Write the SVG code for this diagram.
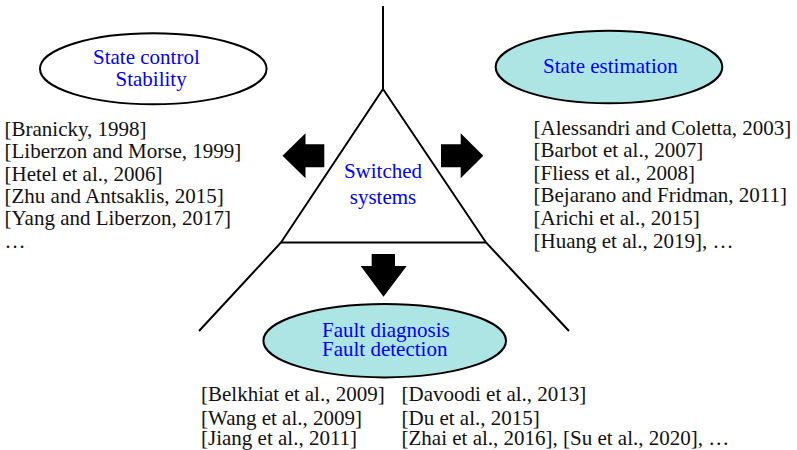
<svg xmlns="http://www.w3.org/2000/svg" width="797" height="450" viewBox="0 0 797 450" style="font-family:'Liberation Serif',serif;font-size:21px">
<style>
.lbl{fill:#0000FF}
.cit{fill:#111111}
.ell{stroke:#000;stroke-width:2}
.ln{stroke:#000;stroke-width:2;fill:none}
.arr{fill:#000}
</style>
<rect width="797" height="450" fill="#fff"/>
<g id="connectors">
<polyline class="ln" points="199,331 281,242.5 383,89 486,242.5 569,331"/>
<line class="ln" x1="281" y1="242.5" x2="486" y2="242.5"/>
<line class="ln" x1="383" y1="6" x2="383" y2="89"/>
<polygon class="arr" points="282.5,155.7 305.5,133.3 305.5,144.3 324.3,144.3 324.3,167.3 305.5,167.3 305.5,178.3"/>
<polygon class="arr" points="441,144.3 460.7,144.3 460.7,133.3 483.3,155.7 460.7,178.3 460.7,167.3 441,167.3"/>
<polygon class="arr" points="371.7,254 395,254 395,266 406.7,266 383.5,296.7 360.7,266 371.7,266"/>
</g>
<g id="switched">
<text class="lbl" x="383" y="177.7" text-anchor="middle">Switched</text>
<text class="lbl" x="383" y="203.5" text-anchor="middle">systems</text>
</g>
<g id="state-control">
<ellipse class="ell" cx="153.3" cy="68.8" rx="113.3" ry="35.5" fill="#fff"/>
<text class="lbl" x="93" y="64.3">State control</text>
<text class="lbl" x="115.5" y="86">Stability</text>
</g>
<g id="state-estimation">
<ellipse class="ell" cx="609" cy="67" rx="113.3" ry="36.3" fill="#ADE4E4"/>
<text class="lbl" x="543" y="72.7">State estimation</text>
</g>
<g id="fault">
<ellipse class="ell" cx="384.7" cy="340.7" rx="121.3" ry="36.7" fill="#ADE4E4"/>
<text class="lbl" x="322" y="336.7">Fault diagnosis</text>
<text class="lbl" x="322" y="355.7">Fault detection</text>
</g>
<g id="refs-control">
<text class="cit" x="4.5" y="136">[Branicky, 1998]</text>
<text class="cit" x="4.5" y="158.3">[Liberzon and Morse, 1999]</text>
<text class="cit" x="4.5" y="180.6">[Hetel et al., 2006]</text>
<text class="cit" x="4.5" y="202.9">[Zhu and Antsaklis, 2015]</text>
<text class="cit" x="4.5" y="225.2">[Yang and Liberzon, 2017]</text>
<text class="cit" x="4.5" y="247.5">…</text>
</g>
<g id="refs-estimation">
<text class="cit" x="533.5" y="134.5">[Alessandri and Coletta, 2003]</text>
<text class="cit" x="533.5" y="157.1">[Barbot et al., 2007]</text>
<text class="cit" x="533.5" y="179.7">[Fliess et al., 2008]</text>
<text class="cit" x="533.5" y="202.3">[Bejarano and Fridman, 2011]</text>
<text class="cit" x="533.5" y="224.9">[Arichi et al., 2015]</text>
<text class="cit" x="533.5" y="247.5">[Huang et al., 2019], …</text>
</g>
<g id="refs-fault">
<text class="cit" x="201" y="400.5">[Belkhiat et al., 2009]</text>
<text class="cit" x="201" y="425">[Wang et al., 2009]</text>
<text class="cit" x="201" y="444.5">[Jiang et al., 2011]</text>
<text class="cit" x="401.5" y="400.5">[Davoodi et al., 2013]</text>
<text class="cit" x="401.5" y="425">[Du et al., 2015]</text>
<text class="cit" x="401.5" y="444.5">[Zhai et al., 2016], [Su et al., 2020], …</text>
</g>
</svg>
